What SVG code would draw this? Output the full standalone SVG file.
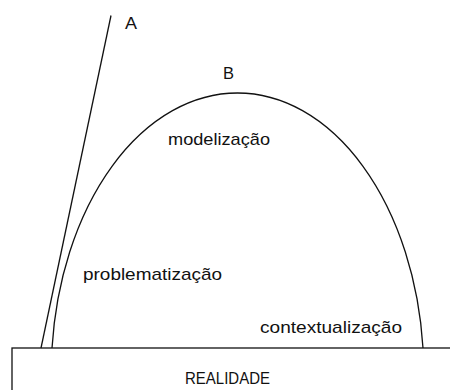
<svg xmlns="http://www.w3.org/2000/svg" width="450" height="390" viewBox="0 0 450 390">
<style>
.ln{fill:none;stroke:#111;stroke-width:1.3}
.t{font-family:"Liberation Sans",Arial,sans-serif;font-size:17px;fill:#111}
</style>
<rect width="450" height="390" fill="#fff"/>
<g id="connectors">
<path id="line-A" class="ln" d="M111 15.5 L41 348"/>
<path id="arch-B" class="ln" d="M52 348 A186.3 281 0 0 1 423 348"/>
</g>
<g id="realidade">
<rect class="ln" x="12" y="348" width="460" height="60"/>
<text class="t" x="185" y="384" textLength="85" lengthAdjust="spacingAndGlyphs">REALIDADE</text>
</g>
<g id="label-A"><text class="t" x="125" y="29" textLength="12" lengthAdjust="spacingAndGlyphs">A</text></g>
<g id="label-B"><text class="t" x="223" y="79" textLength="11" lengthAdjust="spacingAndGlyphs">B</text></g>
<g id="modelizacao"><text class="t" x="168" y="145" textLength="102" lengthAdjust="spacingAndGlyphs">modelização</text></g>
<g id="problematizacao"><text class="t" x="83" y="280" textLength="139" lengthAdjust="spacingAndGlyphs">problematização</text></g>
<g id="contextualizacao"><text class="t" x="260" y="332.5" textLength="142" lengthAdjust="spacingAndGlyphs">contextualização</text></g>
</svg>
